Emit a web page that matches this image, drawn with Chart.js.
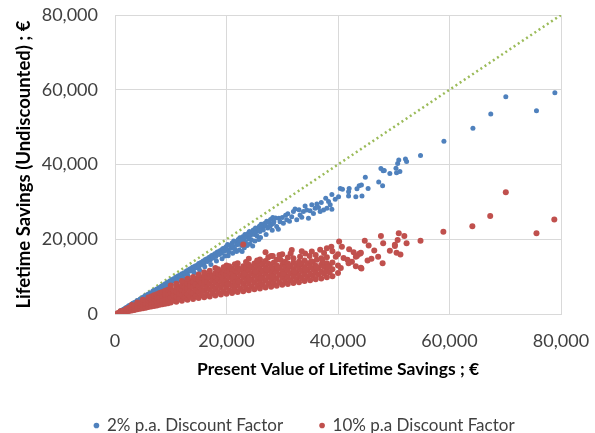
<!DOCTYPE html>
<html>
<head>
<meta charset="utf-8">
<script src="https://cdn.jsdelivr.net/npm/chart.js@4.4.1/dist/chart.umd.min.js"></script>
<style>
  html, body { margin: 0; padding: 0; background: #fff; }
  #wrap { width: 595px; height: 433px; }
</style>
</head>
<body>
<div id="wrap"><canvas id="chart" width="595" height="433"></canvas></div>
<script>

// axis setup
var axisMin = 0;
var axisMax = 80000;
var axisStep = 20000;

var seriesNames = ['2% p.a. Discount Factor', '10% p.a Discount Factor'];

// reference line (undiscounted = present value)
var parityLine = [[0, 0], [80000, 80000]];

// 2% p.a. series : [present value, undiscounted]
var bluePoints = [
    [1000,850],[1200,950],[1500,1300],[1800,1500],[2000,1750],[2100,1650],[2400,2150],[2600,2250],[3000,2650],[3100,2500],
    [3300,2950],[3600,3150],[3800,3300],[4000,3600],[4200,3450],[4500,4000],[4700,3850],[5000,4500],[5100,4300],[5400,4850],
    [5600,4700],[5900,5300],[6100,5100],[6300,5600],[6600,5550],[6800,6150],[7000,5900],[7200,6450],[7500,6700],[7600,6350],
    [7900,7050],[8100,6800],[8300,7450],[8600,7650],[8700,7200],[9000,8100],[9100,7700],[9400,8400],[9600,8150],[9800,8800],
    [10000,8500],[10200,9150],[10500,9400],[10600,8900],[10900,9800],[11100,9450],[11300,10150],[11600,10350],[11700,9850],[12000,10800],
    [12100,10300],[12400,11050],[12600,10650],[12800,11500],[13000,11050],[13200,11850],[13500,12100],[13600,11500],[13900,12500],[14100,11950],
    [14300,12800],[14600,13000],[14700,12400],[15000,13500],[15100,12800],[15400,13750],[15600,13250],[15800,14200],[16000,13650],[16200,14600],
    [16500,14750],[16600,14050],[16900,15200],[17100,14500],[17300,15600],[17500,15750],[17600,15000],[17900,16100],[18100,15400],[18300,16500],
    [18500,16650],[18700,15900],[18900,17000],[19100,16300],[19300,17450],[19500,17500],[19600,16800],[19900,18000],[20100,17200],[20200,18600],
    [20400,16600],[20600,18300],[20800,17600],[21000,19000],[21200,18100],[21300,19500],[21500,17400],[21700,19300],[21900,18500],[22100,19900],
    [22200,18900],[22400,20400],[22600,19600],[22700,18300],[22900,20700],[23100,19900],[23300,21300],[23400,19200],[23600,20600],[23800,21500],
    [24000,20100],[24100,22100],[24300,21000],[24500,19800],[24600,21900],[24800,22500],[25000,21300],[25200,23000],[25300,22000],[25500,20900],
    [25700,22700],[25900,23500],[26000,22100],[26200,24000],[26400,23200],[26600,22500],[26800,24200],[27000,23600],[27200,24800],[27400,23000],
    [27600,24500],[27900,25300],[28100,24000],[28300,25800],[28500,24700],[27800,23500],[28800,25700],[29000,23400],[28400,24300],[29400,25600],
    [29600,24700],[30000,25800],[30200,24300],[30600,26400],[30800,25200],[31000,26800],[31300,24800],[31700,26000],[32000,27400],[32300,28100],
    [32600,25200],[33000,27900],[33200,26500],[33500,25900],[33800,27400],[34100,28900],[34400,27800],[34700,25600],[35000,27600],[35300,29200],
    [35600,26900],[35900,28300],[36200,29400],[36500,28500],[36800,27400],[37000,29800],[37400,27800],[37800,31000],[38000,28300],[38300,30100],
    [38600,29200],[38900,28000],[38900,32000],[39500,30700],[40100,31400],[40400,33600],[40800,33400],[41900,31600],[42000,33600],[41900,32700],
    [43200,31400],[43400,33500],[43800,34300],[44300,31600],[44200,34500],[44900,36600],[45400,33600],[47300,35300],[47700,38900],[48000,34300],
    [48100,38300],[48300,38400],[49300,37600],[50400,39000],[50500,37800],[50700,40300],[51100,38100],[50900,41200],[52100,41500],[52300,40800],
    [54800,42400],[59000,46200],[64200,49700],[67400,53500],[70100,58100],[75600,54400],[78900,59200],
    // lower edge of the dense band
    [6200,4850],[7100,5600],[8200,6450],[9200,7150],[10100,7950],[11200,8650],[12200,9550],[13100,10200],[14200,11050],[15200,11700],
    [16100,12650],[17200,13250],[18200,14200],[19200,14750],[20300,15600],[21100,16250],[22300,17100],[23200,17700],[24200,18700],[25100,19500],
    [26100,20500],[27100,21300],[28200,22400],[29300,22700],[19700,15500],[21800,16700],[23700,18300],[25800,19900],[24700,18200],[22800,16700]
];

// 10% p.a. series : [present value, undiscounted]
var redPoints = [
    [500,300],[1000,400],[1000,600],[1000,750],[1500,500],[1500,900],[2000,650],[2000,1000],[2000,1350],[2500,800],
    [2500,1300],[2500,1700],[3000,950],[3000,1500],[3000,2000],[3000,2400],[3500,1100],[3500,1700],[3500,2300],[4000,1250],
    [4000,1900],[4000,2600],[4000,3100],[4500,1400],[4500,2200],[4500,2900],[5000,1550],[5000,2400],[5000,3200],[5000,3800],
    [5500,1700],[5500,2600],[5500,3500],[6000,1850],[6000,2800],[6000,3700],[6000,4400],[6500,2000],[6500,3000],[6500,3900],
    [6500,4700],[7000,2150],[7000,3200],[7000,4200],[7000,5000],[7500,2300],[7500,3400],[7500,4400],[7500,5300],[8000,2450],
    [8000,3600],[8000,4700],[8000,5600],[8500,2600],[8500,3800],[8500,4900],[8500,5900],[9000,2750],[9000,4000],[9000,5200],
    [9000,6200],[9500,2900],[9500,4200],[9500,5400],[9500,6500],[10000,3050],[10000,4400],[10000,5700],[10000,6800],[10500,3600],
    [10500,5000],[10500,6200],[11000,3300],[11000,4700],[11000,6000],[11000,7300],[11500,4100],[11500,5500],[11500,6800],[12000,3550],
    [12000,5000],[12000,6400],[12000,7700],[12500,4300],[12500,5800],[12500,7200],[12500,8300],[13000,3800],[13000,5300],[13000,6800],
    [13000,8100],[13500,4600],[13500,6100],[13500,7500],[13500,8800],[14000,4000],[14000,5600],[14000,7200],[14000,8600],[14500,4800],
    [14500,6400],[14500,7900],[14500,9400],[15000,4250],[15000,5900],[15000,7500],[15000,9000],[15000,10000],[15500,5100],[15500,6700],
    [15500,8300],[15500,9700],[16000,4500],[16000,6200],[16000,7800],[16000,9300],[16000,10400],[16500,5300],[16500,7000],[16500,8600],
    [16500,10000],[17000,4700],[17000,6500],[17000,8100],[17000,9700],[17000,10700],[17500,5600],[17500,7300],[17500,8900],[17500,10300],
    [18000,4950],[18000,6700],[18000,8400],[18000,10000],[18000,11000],[18000,12300],[18500,5900],[18500,7600],[18500,9200],[18500,10700],
    [19000,5200],[19000,7000],[19000,8700],[19000,10300],[19000,11300],[19500,6100],[19500,7900],[19500,9500],[19500,11000],[20000,5400],
    [20000,7200],[20000,9000],[20000,10600],[20000,11600],[20000,13000],[20500,6300],[20500,8100],[20500,9800],[20500,11300],[21000,5650],
    [21000,7500],[21000,9300],[21000,10900],[21000,12100],[21500,6600],[21500,8400],[21500,10100],[21500,11700],[22000,5900],[22000,7700],
    [22000,9500],[22000,11200],[22000,12400],[22000,13600],[22500,6800],[22500,8700],[22500,10400],[22500,11900],[23000,6100],[23000,8000],
    [23000,9800],[23000,11500],[23000,12800],[23000,18600],[23500,7100],[23500,8900],[23500,10700],[23500,12300],[24000,6350],[24000,8200],
    [24000,10000],[24000,11700],[24000,13200],[24000,14800],[24500,7300],[24500,9200],[24500,10900],[24500,12600],[25000,6600],[25000,8500],
    [25000,10300],[25000,12000],[25000,13500],[25500,7600],[25500,9500],[25500,11200],[25500,12900],[26000,6850],[26000,8700],[26000,10500],
    [26000,12200],[26000,14000],[26000,14600],[26500,7800],[26500,9700],[26500,11500],[26500,13300],[27000,7100],[27000,9000],[27000,10800],
    [27000,12500],[27000,14200],[27000,16500],[27500,8100],[27500,10000],[27500,11700],[27500,13500],[28000,7300],[28000,9200],[28000,11000],
    [28000,12700],[28000,15500],[28300,15500],[28500,8300],[28500,10200],[28500,12000],[28500,13800],[29000,7550],[29000,9400],[29000,11300],
    [29000,13000],[29000,14500],[29500,8500],[29500,10500],[29500,12300],[29700,14500],[30000,7800],[30000,9700],[30000,11500],[30000,13200],
    [30000,16000],[30500,8800],[30500,10700],[30500,12600],[30500,14000],[31000,8000],[31000,9900],[31000,11800],[31000,13500],[31000,15100],
    [31700,17100],[31500,9000],[31500,10900],[31500,12800],[32000,8300],[32000,10100],[32000,12000],[32000,13800],[32000,14900],[32500,9300],
    [32500,11200],[32500,13000],[33000,8500],[33000,10400],[33000,12300],[33000,14000],[33200,15300],[33500,9600],[33500,11500],[33500,13300],
    [34000,8800],[34000,10600],[34000,12500],[34000,14300],[34100,16200],[34500,9900],[34500,11800],[34500,13600],[34900,15500],[35000,9000],
    [35000,10800],[35000,12700],[35300,16700],[35500,10200],[35500,12000],[35500,13900],[36000,9300],[36000,11100],[36000,12900],[36200,14500],
    [36500,10500],[36500,12300],[37000,9500],[37000,11300],[37000,13200],[37000,14900],[37500,10800],[37500,12600],[38000,9800],[38000,11600],
    [38000,13600],[38000,15200],[38500,11100],[38500,12900],[38800,18000],[39000,10100],[39000,12000],[39000,13800],[39600,15300],[40000,11000],
    [40000,13000],[40200,19400],[40700,18000],[41700,14500],[41900,13600],[42000,17300],[43200,15300],[43200,12800],[43400,15500],[43800,16100],
    [44000,16200],[44100,16400],[44100,12400],[44200,12200],[44800,19600],[45300,14300],[47200,15300],[47700,20900],[48000,13600],[48100,18900],
    [49300,16900],[50200,18200],[50200,18500],[50500,16400],[50700,19800],[50900,21600],[51200,15900],[51900,20900],[52300,18900],[54800,19600],
    [58900,22000],[64100,23500],[67300,26200],[70100,32600],[75600,21600],[78800,25300],
    // upper edge and filling of the dense cloud
    [10000,7600],[11000,8100],[12000,8800],[13000,9400],[14000,9900],[15000,10600],[16000,11200],[17000,11600],[18500,12000],[19500,12500],
    [20500,12800],[21500,13300],[23500,13900],[25500,14300],[27500,15200],[29500,15800],[31500,16200],[33500,16800],[20200,8000],[21200,10000],
    [22200,8600],[23200,10800],[24200,9100],[25200,11300],[26200,9600],[27200,11900],[28200,10100],[29200,12400],[30200,10700],[31200,12900],
    [32200,11300],[33200,13500],[34200,11900],[35200,14100],[36200,12400],[37200,14300],[38200,12600],[36000,15800],[37500,16300],[39000,16800],
    [38000,17600],[36800,17200],[40000,16000],[41000,15000],[40500,12300],[42500,14000],[42800,16500],[46000,14800],[46500,17000],[45500,18300]
];

var blueColor = '#4F81BD';
var redColor = '#C0504D';
var lineColor = '#9BBB59';
var gridColor = '#D9D9D9';
var textColor = '#404040';
var noColor = 'rgba(0,0,0,0)';

function toXY(list) {
    var out = [];
    for (var i = 0; i < list.length; i++) {
        out.push({ x: list[i][0], y: list[i][1] });
    }
    return out;
}

function fmt(v) {
    return Number(v).toLocaleString('en-US');
}

// fixed legend height, and nudge it right like the original
var legendPlugin = {
    id: 'legendPlace',
    beforeInit: function(chart) {
        var origFit = chart.legend.fit;
        chart.legend.fit = function() {
            origFit.bind(chart.legend)();
            this.height = 53;
        };
    },
    afterLayout: function(chart) {
        chart.legend.left += 20;
        chart.legend.right += 20;
    }
};

var ctx = document.getElementById('chart').getContext('2d');

var chart = new Chart(ctx, {
    type: 'scatter',
    data: {
        datasets: [
            {
                label: seriesNames[0],
                data: toXY(bluePoints),
                backgroundColor: blueColor,
                borderWidth: 0,
                pointRadius: 2.5,
                order: 1
            },
            {
                label: seriesNames[1],
                data: toXY(redPoints),
                backgroundColor: redColor,
                borderWidth: 0,
                pointRadius: 3,
                order: 0
            },
            {
                type: 'line',
                label: 'parity',
                data: toXY(parityLine),
                borderColor: lineColor,
                borderWidth: 2.5,
                borderDash: [2, 3],
                pointRadius: 0,
                fill: false,
                order: 2
            }
        ]
    },
    options: {
        responsive: false,
        animation: false,
        layout: {
            padding: { top: 15, right: 34, left: 8, bottom: 0 }
        },
        plugins: {
            legend: {
                position: 'bottom',
                labels: {
                    usePointStyle: true,
                    pointStyle: 'circle',
                    boxWidth: 4,
                    boxHeight: 4,
                    padding: 37,
                    color: textColor,
                    font: { family: 'Lato', size: 17 },
                    filter: function(item) { return item.datasetIndex < 2; },
                    sort: function(a, b) { return a.datasetIndex - b.datasetIndex; }
                }
            },
            tooltip: { enabled: false }
        },
        scales: {
            x: {
                type: 'linear',
                min: axisMin,
                max: axisMax,
                afterFit: function(scale) { scale.height = 66; },
                ticks: {
                    stepSize: axisStep,
                    padding: 0,
                    color: textColor,
                    font: { family: 'Lato', size: 18 },
                    maxRotation: 0,
                    callback: function(v) { return fmt(v); }
                },
                grid: { color: gridColor, tickColor: noColor, tickLength: 16 },
                border: { color: gridColor },
                title: {
                    display: true,
                    text: 'Present Value of Lifetime Savings ; \u20ac',
                    color: '#000',
                    font: { family: 'Lato', size: 17.5, weight: 'bold' },
                    padding: { top: 0, bottom: 0 }
                }
            },
            y: {
                type: 'linear',
                min: axisMin,
                max: axisMax,
                afterFit: function(scale) { scale.width = 107; },
                ticks: {
                    stepSize: axisStep,
                    padding: 0,
                    color: textColor,
                    font: { family: 'Lato', size: 18 },
                    callback: function(v) { return fmt(v); }
                },
                grid: { color: gridColor, tickColor: noColor, tickLength: 17 },
                border: { color: gridColor },
                title: {
                    display: true,
                    text: 'Lifetime Savings (Undiscounted) ; \u20ac',
                    color: '#000',
                    font: { family: 'Lato', size: 18.5, weight: 'bold' },
                    padding: { top: 5, bottom: 0 }
                }
            }
        }
    },
    plugins: [legendPlugin]
});

</script>
</body>
</html>
